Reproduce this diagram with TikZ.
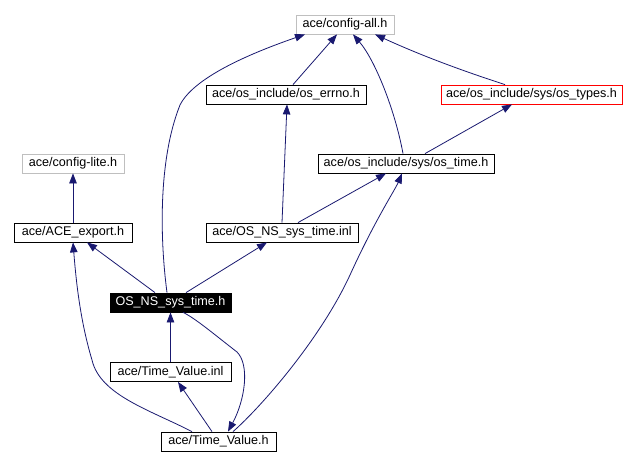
\documentclass[tikz,border=0pt]{standalone}
\usepackage{fontspec}
\setmainfont{Liberation Sans}
\usetikzlibrary{arrows.meta}
\definecolor{edgec}{HTML}{191970}
\definecolor{grayb}{HTML}{BFBFBF}
\begin{document}
\begin{tikzpicture}[x=1pt,y=-1pt,
  box/.style={draw, line width=0.8pt, inner sep=0pt, minimum height=19pt, font=\fontsize{12.6}{14}\selectfont},
  edge/.style={draw=edgec, line width=0.8pt, -{Triangle[length=10pt,width=7.5pt]}}]
\fill[white] (0,0) rectangle (636,465);
\useasboundingbox (0,0) rectangle (636,465);
\node[box, draw=grayb, minimum width=98pt] (cfgall) at (345,24.5) {ace/config-all.h};
\node[box, minimum width=160pt] (errno) at (286,94.5) {ace/os\_include/os\_errno.h};
\node[box, draw=red, minimum width=181pt] (types) at (531.5,94.5) {ace/os\_include/sys/os\_types.h};
\node[box, minimum width=176pt] (ostime) at (406,163.5) {ace/os\_include/sys/os\_time.h};
\node[box, draw=grayb, minimum width=102pt] (cfglite) at (73,163.5) {ace/config-lite.h};
\node[box, minimum width=118pt] (export) at (73,232.5) {ace/ACE\_export.h};
\node[box, minimum width=152pt] (nsinl) at (282,232.5) {ace/OS\_NS\_sys\_time.inl};
\node[box, fill=black, text=white, minimum width=121pt] (nsh) at (170.5,302.5) {OS\_NS\_sys\_time.h};
\node[box, minimum width=121pt] (tvinl) at (170.5,372) {ace/Time\_Value.inl};
\node[box, minimum width=115pt] (tvh) at (218.5,441.5) {ace/Time\_Value.h};

\draw[edge] ([xshift=7pt]errno.north) -- ([xshift=-8pt]cfgall.south);
\draw[edge] ([xshift=-3.5pt]nsh.north) .. controls (160,240) and (158,160) .. (180,105) .. controls (195,75) and (260,50) .. ([xshift=-40pt]cfgall.south);
\draw[edge] ([xshift=-3pt]ostime.north) .. controls (395,110) and (375,60) .. ([xshift=8pt]cfgall.south);
\draw[edge] ([xshift=-26.5pt]types.north) .. controls (460,70) and (420,55) .. ([xshift=30pt]cfgall.south);
\draw[edge] ([xshift=19pt]ostime.north) -- ([xshift=-19.5pt]types.south);
\draw[edge] (nsinl.north) -- ([xshift=1pt]errno.south);
\draw[edge] ([xshift=16pt]nsinl.north) -- ([xshift=-20pt]ostime.south);
\draw[edge] (export.north) -- (cfglite.south);
\draw[edge] ([xshift=-15.5pt]nsh.north) -- ([xshift=14pt]export.south);
\draw[edge] ([xshift=15.5pt]nsh.north) -- ([xshift=-15pt]nsinl.south);
\draw[edge] (tvinl.north) -- (nsh.south);
\draw[edge] ([xshift=-6.5pt]tvh.north) -- ([xshift=7.5pt]tvinl.south);
\draw[edge] ([xshift=-26.5pt]tvh.north) .. controls (150,410) and (100,395) .. (92,360) .. controls (80,320) and (76,280) .. (export.south);
\draw[edge] ([xshift=12.5pt]nsh.south) .. controls (195,318) and (215,335) .. (237,352) .. controls (250,365) and (245,400) .. ([xshift=9.5pt]tvh.north);
\draw[edge] ([xshift=14.5pt]tvh.north) .. controls (260,408) and (320,340) .. (350,275) .. controls (375,220) and (395,190) .. ([xshift=-4pt]ostime.south);
\end{tikzpicture}
\end{document}
